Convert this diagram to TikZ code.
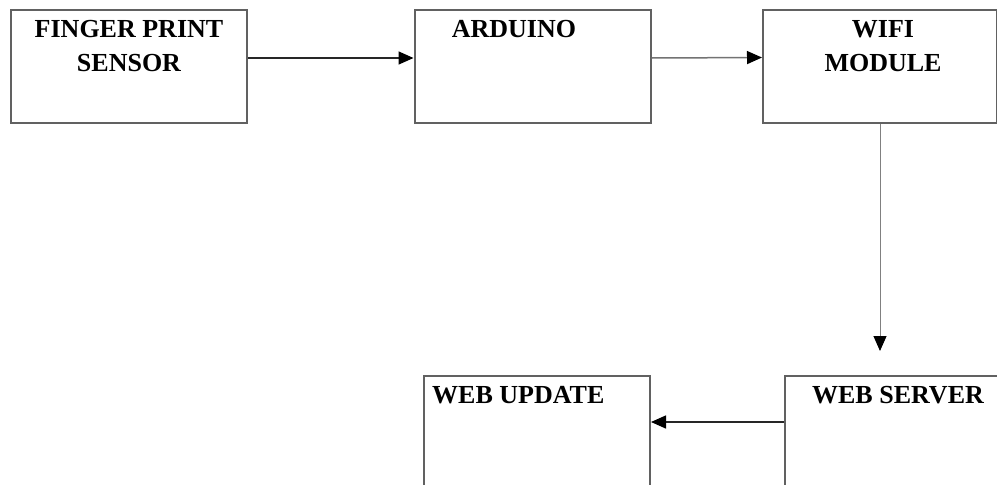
\documentclass[tikz,border=0pt]{standalone}
\usepackage{fontspec}
\setmainfont{Liberation Serif}
\usetikzlibrary{arrows.meta}
\begin{document}
\begin{tikzpicture}[x=1pt,y=-1pt,
  blockbox/.style={draw=black!62,line width=2pt,rectangle,inner sep=0pt,minimum height=113pt},
  lbl/.style={font=\bfseries\fontsize{26}{30}\selectfont,inner sep=0pt,anchor=base,text=black},
  conn/.style={line width=1.5pt,draw=black!85,-{Triangle[length=15pt 0 0,width=13pt 0,color=black]}}]
\useasboundingbox (0,0) rectangle (997,485);
\clip (0,0) rectangle (997,485);
\fill[white] (0,0) rectangle (997,485);
\node[blockbox,minimum width=236pt] (f) at (129,66.5) {};
\node[blockbox,minimum width=236pt] (a) at (532.5,66.5) {};
\node[blockbox,minimum width=234pt] (w) at (880,66.5) {};
\node[blockbox,minimum width=226pt] (u) at (537,432.5) {};
\node[blockbox,minimum width=226pt] (s) at (898,432.5) {};
\node[lbl] (t1) at (129,37) {FINGER PRINT};
\node[lbl] (t2) at (129,71) {SENSOR};
\node[lbl] (t3) at (514,37) {ARDUINO};
\node[lbl] (t4) at (883,37) {WIFI};
\node[lbl] (t5) at (883,71) {MODULE};
\node[lbl,anchor=base west] (t6) at (432,403) {WEB UPDATE};
\node[lbl] (t7) at (898,403) {WEB SERVER};
\coordinate (vt) at (880,351);
\draw[conn] ([yshift=8.5pt]f.east) -- ([yshift=8.5pt]a.west);
\draw[conn,draw=black!55] ([yshift=8.5pt]a.east) -- ([yshift=9pt]w.west);
\draw[conn,line width=1pt,draw=black!50] (w.south) -- (vt);
\draw[conn] ([yshift=10.5pt]s.west) -- ([yshift=10.5pt]u.east);
\end{tikzpicture}
\end{document}
